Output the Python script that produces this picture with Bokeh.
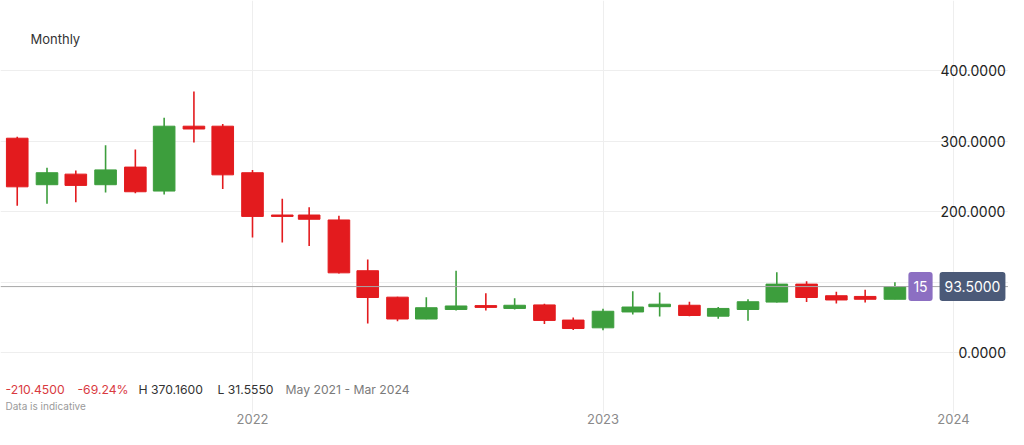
import pandas as pd
from bokeh.plotting import figure
from bokeh.models import (ColumnDataSource, Range1d, FixedTicker, LinearAxis, Grid,
                          DatetimeTickFormatter, NumeralTickFormatter, Span, Label)
from bokeh.embed import file_html
from bokeh.resources import INLINE

# ---------------- data ----------------
months = ["2021-05", "2021-06", "2021-07", "2021-08", "2021-09", "2021-10", "2021-11", "2021-12",
          "2022-01", "2022-02", "2022-03", "2022-04", "2022-05", "2022-06", "2022-07", "2022-08",
          "2022-09", "2022-10", "2022-11", "2022-12", "2023-01", "2023-02", "2023-03", "2023-04",
          "2023-05", "2023-06", "2023-07", "2023-08", "2023-09", "2023-10", "2023-11"]
opens = [303.95, 238, 253, 238, 263, 229, 321, 321,
         255, 195, 195, 188, 116, 78.5, 47.5, 61,
         66.5, 62.5, 67.5, 46, 35, 57.5, 65, 67,
         51.5, 61, 71.5, 97, 80.5, 79.5, 75.5]
highs = [306, 262, 258, 294, 288, 333, 370.16, 324,
         259, 218, 206, 194, 132, 79, 78.5, 116,
         84, 77, 69, 49.5, 62, 87, 85, 72,
         64.5, 75.5, 114, 101, 86, 89, 99.5]
lows = [208, 211, 213, 227, 226, 224, 298, 232,
        163, 156, 151, 112, 41, 44.5, 47, 59.5,
        59.5, 61, 40.5, 32, 31.555, 54, 51, 51.5,
        48, 45, 71, 71.5, 69.5, 71, 75.5]
closes = [235, 255, 237, 259, 228, 321, 317, 252,
          193, 193, 189, 113, 78, 47.5, 63.5, 66,
          64, 67, 45.5, 34, 58.5, 64.5, 68.5, 52.5,
          62.5, 72, 97, 78, 74.5, 75.5, 93.5]

y_ticks_wide = [200, 300, 400]
y_ticks_narrow = [0]
y_grid_ticks = [0, 100, 200, 300, 400]
year_ticks = ["2022-01-01", "2023-01-01", "2024-01-01"]
last_price = 93.5
badge_count = "15"
title_text = "Monthly"
change_abs = "-210.4500"
change_pct = "-69.24%"
high_text = "H 370.1600"
low_text = "L 31.5550"
period_text = "May 2021 - Mar 2024"
note_text = "Data is indicative"

# ---------------- layout ----------------
FONT = "Inter"
FW, FH = 1008, 413
RED = "#e31b1e"
GREEN = "#3d9e3d"


def ms(d):
    return pd.Timestamp(d).value / 1e6


T22, T24 = ms("2022-01-01"), ms("2024-01-01")
pxms = (953 - 252) / (T24 - T22)
X_START = T22 - 252 / pxms
X_END = X_START + FW / pxms


def dx(ref_x):
    return X_START + ref_x / pxms


PXU = 0.705
Y_END = 352 / PXU
Y_START = Y_END - FH / PXU


def dy(ref_y):
    return (352 - ref_y) / PXU


xs = [ms(m + "-01") for m in months]
src = ColumnDataSource(dict(
    x=xs,
    high=highs,
    low=lows,
    top=[max(o, c) for o, c in zip(opens, closes)],
    bottom=[min(o, c) for o, c in zip(opens, closes)],
    color=[GREEN if c >= o else RED for o, c in zip(opens, closes)],
))

p = figure(frame_width=FW, frame_height=FH, x_axis_type="datetime",
           x_range=Range1d(X_START, X_END), y_range=Range1d(Y_START, Y_END),
           toolbar_location=None, output_backend="svg", min_border=0,
           y_axis_location=None)
p.outline_line_color = None
p.background_fill_color = "white"
p.border_fill_color = "white"

# x axis (years)
xa = p.xaxis[0]
xa.ticker = FixedTicker(ticks=[ms(t) for t in year_ticks])
xa.formatter = DatetimeTickFormatter(years="%Y", months="%Y", days="%Y", hours="%Y",
                                     hourmin="%Y", minutes="%Y", minsec="%Y", seconds="%Y",
                                     milliseconds="%Y", microseconds="%Y")
xa.axis_line_color = None
xa.major_tick_line_color = None
xa.minor_tick_line_color = None
xa.major_tick_out = 0
xa.major_tick_in = 0
xa.major_label_standoff = 0
xa.major_label_text_font = FONT
xa.major_label_text_font_size = "13px"
xa.major_label_text_color = "#8a8a8a"
p.xgrid.grid_line_color = "#eeeeee"
p.ygrid.grid_line_color = None

p.add_layout(Grid(dimension=1, ticker=FixedTicker(ticks=y_grid_ticks),
                  grid_line_color="#eeeeee"))


def price_axis(ticks, ref_x):
    return LinearAxis(ticker=FixedTicker(ticks=ticks),
                      formatter=NumeralTickFormatter(format="0.0000"),
                      fixed_location=dx(ref_x),
                      axis_line_color=None, major_tick_line_color=None,
                      minor_tick_line_color=None, major_tick_out=0, major_tick_in=0,
                      major_label_standoff=0,
                      major_label_text_font=FONT, major_label_text_font_size="14px",
                      major_label_text_color="#222222")


p.add_layout(price_axis(y_ticks_wide, 940), "right")
p.add_layout(price_axis(y_ticks_narrow, 958), "right")

# price line
p.add_layout(Span(location=last_price, dimension="width", line_color="#a8a8a8", line_width=1))

# candles
p.segment(x0="x", y0="low", x1="x", y1="high", line_color="color", line_width=1.6, source=src)
p.vbar(x="x", width=22.5 * 86400000, top="top", bottom="bottom",
       fill_color="color", line_color="color", line_width=1, source=src)

# badges
p.add_layout(Label(x=dx(920), y=last_price, text=badge_count, text_align="center",
                   text_baseline="middle", text_font=FONT, text_font_size="14px",
                   text_color="white", background_fill_color="#8c6fc2",
                   padding=(5, 9), border_radius=3))
p.add_layout(Label(x=dx(972), y=last_price, text="%.4f" % last_price, text_align="center",
                   text_baseline="middle", text_font=FONT, text_font_size="14px",
                   text_color="white", background_fill_color="#4b5a78",
                   padding=(5, 9), border_radius=3))

# texts
p.add_layout(Label(x=dx(30), y=dy(38), text=title_text, text_align="left",
                   text_baseline="middle", text_font=FONT, text_font_size="13px",
                   text_color="#333333"))
stats = [(5, change_abs, "#d93a3f"), (77, change_pct, "#d93a3f"),
         (138, high_text, "#333333"), (217, low_text, "#333333"),
         (285, period_text, "#7a7a7a")]
for rx, t, c in stats:
    p.add_layout(Label(x=dx(rx), y=dy(389), text=t, text_align="left",
                       text_baseline="middle", text_font=FONT, text_font_size="12.2px",
                       text_color=c))
p.add_layout(Label(x=dx(5), y=dy(405), text=note_text, text_align="left",
                   text_baseline="middle", text_font=FONT, text_font_size="10px",
                   text_color="#9a9a9a"))

open("out.html", "w").write(file_html(p, INLINE))
